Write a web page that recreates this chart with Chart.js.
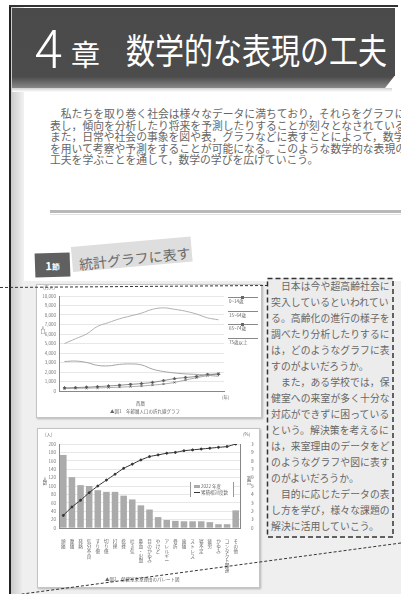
<!DOCTYPE html>
<html lang="ja">
<head>
<meta charset="utf-8">
<script src="https://cdn.jsdelivr.net/npm/chart.js@4.4.1/dist/chart.umd.min.js"></script>
<style>
body{margin:0;width:401px;height:594px;overflow:hidden;background:#fff;position:relative;font-family:"Noto Sans CJK JP",sans-serif;color:#555;}
.abs{position:absolute;}
.panel{position:absolute;background:#fff;border:1px solid #c4c4c4;box-shadow:1px 1px 2px rgba(0,0,0,.25);}
.tiny{position:absolute;font-size:4.5px;line-height:5px;color:#666;white-space:nowrap;}
.vert{writing-mode:vertical-rl;text-orientation:upright;}
</style>
</head>
<body>
<div class="abs" style="left:24px;top:281px;width:377px;height:313px;background:#efefef"></div>
<div class="abs" style="left:10px;top:5px;width:14px;height:589px;background:linear-gradient(to right,#c8c8c8,#f2f2f2)"></div>
<div class="abs" style="left:9px;top:5px;width:2px;height:589px;background:#222"></div>
<div class="abs" style="left:9px;top:5px;width:389px;height:1.5px;background:#333"></div>

<!-- chapter banner -->
<div class="abs" style="left:12px;top:8px;width:383px;height:80px;background:linear-gradient(to bottom,#4a4a4a 0,#4c4c4c 86%,#8a8a8a 100%);clip-path:polygon(0 0,100% 0,100% 84%,97.4% 100%,0 100%)"></div>
<div class="abs" style="left:12px;top:88px;width:380px;height:4px;background:linear-gradient(to bottom,#d0d0d0,#fff)"></div>
<div class="abs" style="left:35px;top:11px;color:#fff;font-size:52px;line-height:70px;font-weight:300">4</div>
<div class="abs" style="left:71px;top:33px;color:#fff;font-size:29px;line-height:40px;font-weight:400">章</div>
<div class="abs" style="left:126px;top:28px;color:#fff;font-size:29px;line-height:40px;font-weight:400;transform:scaleY(1.2);transform-origin:0 50%;white-space:nowrap">数学的な表現の工夫</div>

<!-- intro paragraph -->
<div class="abs" style="left:50px;top:108px;width:351px;overflow:hidden;font-size:10.8px;line-height:11.5px;white-space:nowrap;color:#666">
　私たちを取り巻く社会は様々なデータに満ちており，それらをグラフに<br>
表し，傾向を分析したり将来を予測したりすることが刻々となされている。<br>
また，日常や社会の事象を図や表，グラフなどに表すことによって，数学<br>
を用いて考察や予測をすることが可能になる。このような数学的な表現の<br>
工夫を学ぶことを通して，数学の学びを広げていこう。
</div>
<div class="abs" style="left:50px;top:210px;width:351px;height:3px;background:#b8b8b8"></div>
<div class="abs" style="left:50px;top:214px;width:351px;height:1px;background:#e2e2e2"></div>

<!-- section heading -->
<div class="abs" style="left:72px;top:247px;width:120px;height:25px;background:#dedede;transform:rotate(-5deg);transform-origin:0 50%"></div>
<div class="abs" style="left:35px;top:253px;width:35px;height:24px;background:#606060;color:#fff;font-size:11px;line-height:24px;text-align:center;font-weight:bold;transform:rotate(-2deg)">1<span style="font-size:8px">節</span></div>
<div class="abs" style="left:79px;top:254px;font-size:14px;line-height:20px;color:#6a6a6a;white-space:nowrap;transform:rotate(-6deg);transform-origin:0 50%">統計グラフに表す</div>

<!-- text box -->
<div class="abs" style="left:267px;top:278px;width:126px;height:259px;background:#ececec"></div>
<div class="abs" style="left:271px;top:278px;font-size:9.8px;line-height:16px;letter-spacing:0.1px;white-space:nowrap;color:#666">
　日本は今や超高齢社会に<br>突入しているといわれてい<br>る。高齢化の進行の様子を<br>調べたり分析したりするに<br>は，どのようなグラフに表<br>すのがよいだろうか。<br>
　また，ある学校では，保<br>健室への来室が多く十分な<br>対応ができずに困っている<br>という。解決策を考えるに<br>は，来室理由のデータをど<br>のようなグラフや図に表す<br>のがよいだろうか。<br>
　目的に応じたデータの表<br>し方を学び，様々な課題の<br>解決に活用していこう。
</div>

<!-- chart 1 -->
<div class="panel" style="left:36px;top:284px;width:224px;height:132px"></div>
<div class="abs" style="left:36px;top:284px;width:226px;height:134px"><canvas id="popChart" width="226" height="134"></canvas></div>
<div class="tiny" style="left:43px;top:285px">(万人)</div>
<div class="tiny vert" style="left:40px;top:325px">人口</div>
<div class="tiny" style="left:222px;top:395px">(年)</div>
<div class="tiny" style="left:136px;top:401px">西暦</div>
<div class="tiny" style="left:110px;top:409px">▲図1　年齢層人口の折れ線グラフ</div>
<div id="popLegend"></div>

<!-- chart 2 -->
<div class="panel" style="left:37px;top:428px;width:221px;height:158px"></div>
<div class="abs" style="left:37px;top:428px;width:223px;height:160px"><canvas id="paretoChart" width="223" height="160"></canvas></div>
<div class="tiny" style="left:45px;top:432px">(人)</div>
<div class="tiny vert" style="left:42px;top:476px">人数</div>
<div class="tiny" style="left:243px;top:432px">(%)</div>
<div class="tiny vert" style="left:246px;top:476px">割合</div>
<div class="abs" style="left:190px;top:482px;width:42px;height:15px;background:#fff;border-left:1px solid #999;border-right:1px solid #999"></div>
<div class="tiny" style="left:194px;top:484px"><span style="display:inline-block;width:6px;height:3px;background:#aaa;vertical-align:middle"></span> 2022 年度</div>
<div class="tiny" style="left:194px;top:490px"><span style="display:inline-block;width:6px;height:1px;background:#333;vertical-align:middle"></span> 累積相対度数</div>
<div class="tiny" style="left:105px;top:577px">▲図2　保健室来室理由のパレート図</div>

<svg class="abs" style="left:0;top:0" width="401" height="594">
  <line x1="0" y1="287.5" x2="267" y2="285.5" stroke="#333" stroke-width="1" stroke-dasharray="3 2"/>
  <rect x="267.5" y="278.5" width="125.5" height="258.5" fill="none" stroke="#333" stroke-width="1.5" stroke-dasharray="5 3"/>
  <line x1="401" y1="543" x2="0" y2="597" stroke="#333" stroke-width="1" stroke-dasharray="3 2"/>
</svg>

<script>
// 図1 年齢層人口（万人）
const years = ['1950', '1955', '1960', '1965', '1970', '1975', '1980', '1985', '1990', '1995', '2000', '2005', '2010', '2015', '2020'];
const age0to14 = [3100, 3150, 3000, 2700, 2650, 2800, 2850, 2750, 2300, 2050, 1900, 1800, 1750, 1650, 1550];
const age15to64 = [5000, 5500, 6000, 6800, 7200, 7600, 7900, 8200, 8600, 8750, 8600, 8400, 8100, 7700, 7500];
const age65to74 = [330, 360, 400, 460, 530, 610, 700, 780, 900, 1100, 1300, 1420, 1530, 1750, 1760];
const age75plus = [250, 280, 300, 330, 360, 400, 460, 520, 620, 730, 900, 1160, 1400, 1620, 1850];
const popLegendLabels = ['0~14歳', '15~64歳', '65~74歳', '75歳以上'];

// 図2 保健室来室理由
const reasons = ['頭痛', '腹痛', '発熱', '気分不良', 'すり傷', '切り傷', '打撲', '捻挫', '吐き気', '鼻血・出血', '目のかゆみ', 'やけど', 'アレルギー', '骨折', '歯痛', 'ストレス', '寝不足', '疲労', 'かゆみ', 'コンタクト関連', 'その他'];
const visits = [174, 121, 102, 100, 90, 86, 86, 77, 68, 54, 44, 26, 19, 17, 16, 16, 16, 14, 9, 9, 42];
const cumulativePct = [15, 25, 33, 42, 50, 57, 64, 71, 76, 81, 85, 87, 89, 90, 92, 93, 94, 95, 96, 97, 100];

const tickFont = { family: 'Noto Sans CJK JP', size: 4.5 };

// legend for chart 1 (line sample above label)
const legendBox = document.getElementById('popLegend');
popLegendLabels.forEach((label, i) => {
    const top = 297 + i * 13.5;
    const line = document.createElement('div');
    line.className = 'abs';
    line.style.cssText = `left:228px;top:${top}px;width:30px;height:0.8px;background:#888`;
    legendBox.appendChild(line);
    if (i === 0 || i === 2) {
        const dot = document.createElement('div');
        dot.className = 'abs';
        dot.style.cssText = `left:241px;top:${top - 1}px;width:3px;height:3px;background:#666`;
        legendBox.appendChild(dot);
    }
    const text = document.createElement('div');
    text.className = 'tiny';
    text.style.left = '229px';
    text.style.top = (top + 2) + 'px';
    text.textContent = label;
    legendBox.appendChild(text);
});

new Chart(document.getElementById('popChart'), {
    type: 'line',
    data: {
        labels: years,
        datasets: [
            { label: popLegendLabels[0], data: age0to14, borderColor: '#9a9a9a', borderWidth: 0.9, tension: 0.4, pointRadius: 0 },
            { label: popLegendLabels[1], data: age15to64, borderColor: '#a8a8a8', borderWidth: 0.9, tension: 0.4, pointRadius: 0 },
            { label: popLegendLabels[2], data: age65to74, borderColor: '#777', borderWidth: 0.8, tension: 0.3, pointStyle: 'rectRot', pointRadius: 1.4, pointBackgroundColor: '#555', pointBorderColor: '#555' },
            { label: popLegendLabels[3], data: age75plus, borderColor: '#999', borderWidth: 0.8, tension: 0.3, pointStyle: 'crossRot', pointRadius: 1.4, pointBorderColor: '#555' }
        ]
    },
    options: {
        responsive: false,
        animation: false,
        layout: { padding: { left: 6, right: 38, top: 12, bottom: 17 } },
        plugins: { legend: { display: false }, tooltip: { enabled: false } },
        scales: {
            x: {
                offset: true,
                grid: { display: false },
                border: { color: '#888' },
                ticks: { font: { family: 'Noto Sans CJK JP', size: 3.8 }, color: '#777', maxRotation: 0, autoSkip: false, padding: 1 },
                afterFit: s => { s.height = 10; }
            },
            y: {
                min: 0, max: 10000,
                grid: { color: '#dcdcdc', lineWidth: 0.7, drawTicks: false },
                border: { color: '#888' },
                ticks: { stepSize: 1000, font: tickFont, color: '#777', padding: 3 },
                afterFit: s => { s.width = 17; }
            }
        }
    }
});

new Chart(document.getElementById('paretoChart'), {
    data: {
        labels: reasons,
        datasets: [
            { type: 'line', label: '累積相対度数', data: cumulativePct, yAxisID: 'y2', borderColor: '#333', borderWidth: 1, pointRadius: 1, pointBackgroundColor: '#333', pointBorderColor: '#333', tension: 0.2 },
            { type: 'bar', label: '2022 年度', data: visits, yAxisID: 'y', backgroundColor: '#ababab', categoryPercentage: 0.8, barPercentage: 0.95 }
        ]
    },
    options: {
        responsive: false,
        animation: false,
        layout: { padding: { left: 8, right: 6, top: 16, bottom: 12 } },
        plugins: { legend: { display: false }, tooltip: { enabled: false } },
        scales: {
            x: {
                grid: { display: false },
                border: { color: '#888' },
                ticks: {
                    font: { family: 'Noto Sans CJK JP', size: 4.6, lineHeight: 1.05 },
                    color: '#666', maxRotation: 0, autoSkip: false, padding: 3,
                    callback: function (v) { return this.getLabelForValue(v).split(''); }
                },
                afterFit: s => { s.height = 48; }
            },
            y: {
                position: 'left', min: 0, max: 200,
                grid: { color: '#dcdcdc', lineWidth: 0.7, drawTicks: false },
                border: { color: '#888' },
                ticks: { stepSize: 20, font: tickFont, color: '#777', padding: 3 },
                afterFit: s => { s.width = 14; }
            },
            y2: {
                position: 'right', min: 0, max: 100,
                grid: { display: false },
                border: { color: '#888' },
                ticks: { stepSize: 10, font: tickFont, color: '#777', padding: 3 },
                afterFit: s => { s.width = 14; }
            }
        }
    }
});
</script>
</body>
</html>
